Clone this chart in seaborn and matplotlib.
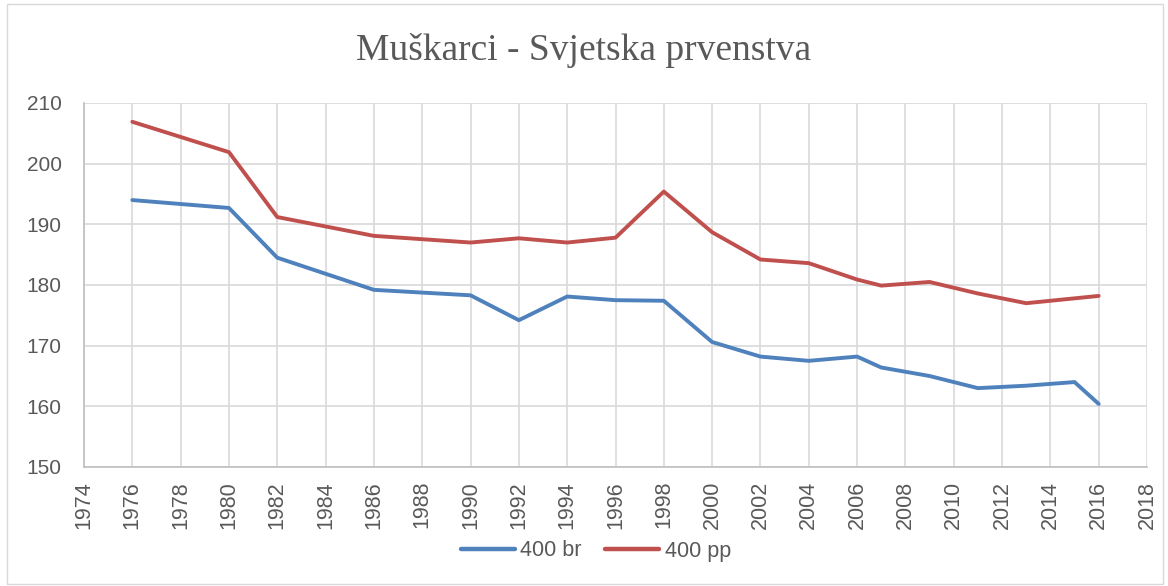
import numpy as np
import pandas as pd
import matplotlib
matplotlib.use("Agg")
import matplotlib.pyplot as plt
import seaborn as sns
from matplotlib.patches import Rectangle

# data
years = [1976, 1980, 1982, 1986, 1990, 1992, 1994, 1996, 1998, 2000,
         2002, 2004, 2006, 2007, 2009, 2011, 2013, 2015, 2016]
br_400 = [194.0, 192.7, 184.5, 179.2, 178.3, 174.2, 178.1, 177.5, 177.4, 170.6,
          168.2, 167.5, 168.2, 166.4, 165.0, 163.0, 163.4, 164.0, 160.4]
pp_400 = [206.9, 201.9, 191.2, 188.1, 187.0, 187.7, 187.0, 187.8, 195.4, 188.7,
          184.2, 183.6, 180.9, 179.9, 180.5, 178.6, 177.0, 177.8, 178.2]
series_names = ["400 br", "400 pp"]
x_ticks = list(range(1974, 2019, 2))
y_ticks = [150, 160, 170, 180, 190, 200, 210]
title = "Muškarci - Svjetska prvenstva"

df = pd.DataFrame({
    "year": years * 2,
    "time": br_400 + pp_400,
    "series": [series_names[0]] * len(years) + [series_names[1]] * len(years),
})

sns.set_style("white")
plt.rcParams["font.family"] = ["Liberation Sans", "DejaVu Sans"]

grey = "#595959"
grid = "#D9D9D9"

fig = plt.figure(figsize=(11.68, 5.86), dpi=100)
ax = fig.add_axes([84 / 1168, 1 - 467 / 586, (1147 - 84) / 1168, (467 - 103) / 586])

sns.lineplot(data=df, x="year", y="time", hue="series",
             palette=["#4F81BD", "#C0504D"], linewidth=2.8, ax=ax,
             legend=True)

ax.set_xlim(1974, 2018)
ax.set_ylim(150, 210)
ax.set_xticks(x_ticks)
ax.set_yticks(y_ticks)
ax.set_xticklabels([str(t) for t in x_ticks], rotation=90, color=grey, fontsize=15.5)
ax.set_yticklabels([str(t) for t in y_ticks], color=grey, fontsize=15)
ax.tick_params(axis="x", length=0, pad=10)
ax.tick_params(axis="y", length=0, pad=16)
ax.grid(True, color=grid, linewidth=1.2)
ax.set_axisbelow(True)
for side in ["top", "right"]:
    ax.spines[side].set_visible(False)
for side in ["left", "bottom"]:
    ax.spines[side].set_color("#BFBFBF")
    ax.spines[side].set_linewidth(1.2)
ax.set_xlabel("")
ax.set_ylabel("")

leg = ax.legend(loc="center", bbox_to_anchor=((596 - 84) / (1147 - 84), -(551 - 467) / (467 - 103)),
                ncol=2, frameon=False, fontsize=15.5, handlelength=2.5,
                handletextpad=0.25, columnspacing=1.1)
for t in leg.get_texts():
    t.set_color(grey)
for h in leg.get_lines():
    h.set_linewidth(3.2)

fig.text(0.5, 1 - 51 / 586, title, ha="center", va="center", fontsize=27,
         color=grey, family=["Liberation Serif", "DejaVu Serif"])

fig.patches.append(Rectangle((7 / 1168, 2 / 586), 1156 / 1168, 580 / 586,
                             transform=fig.transFigure, fill=False,
                             edgecolor="#D9D9D9", linewidth=1))

fig.savefig("out.png", dpi=100)
